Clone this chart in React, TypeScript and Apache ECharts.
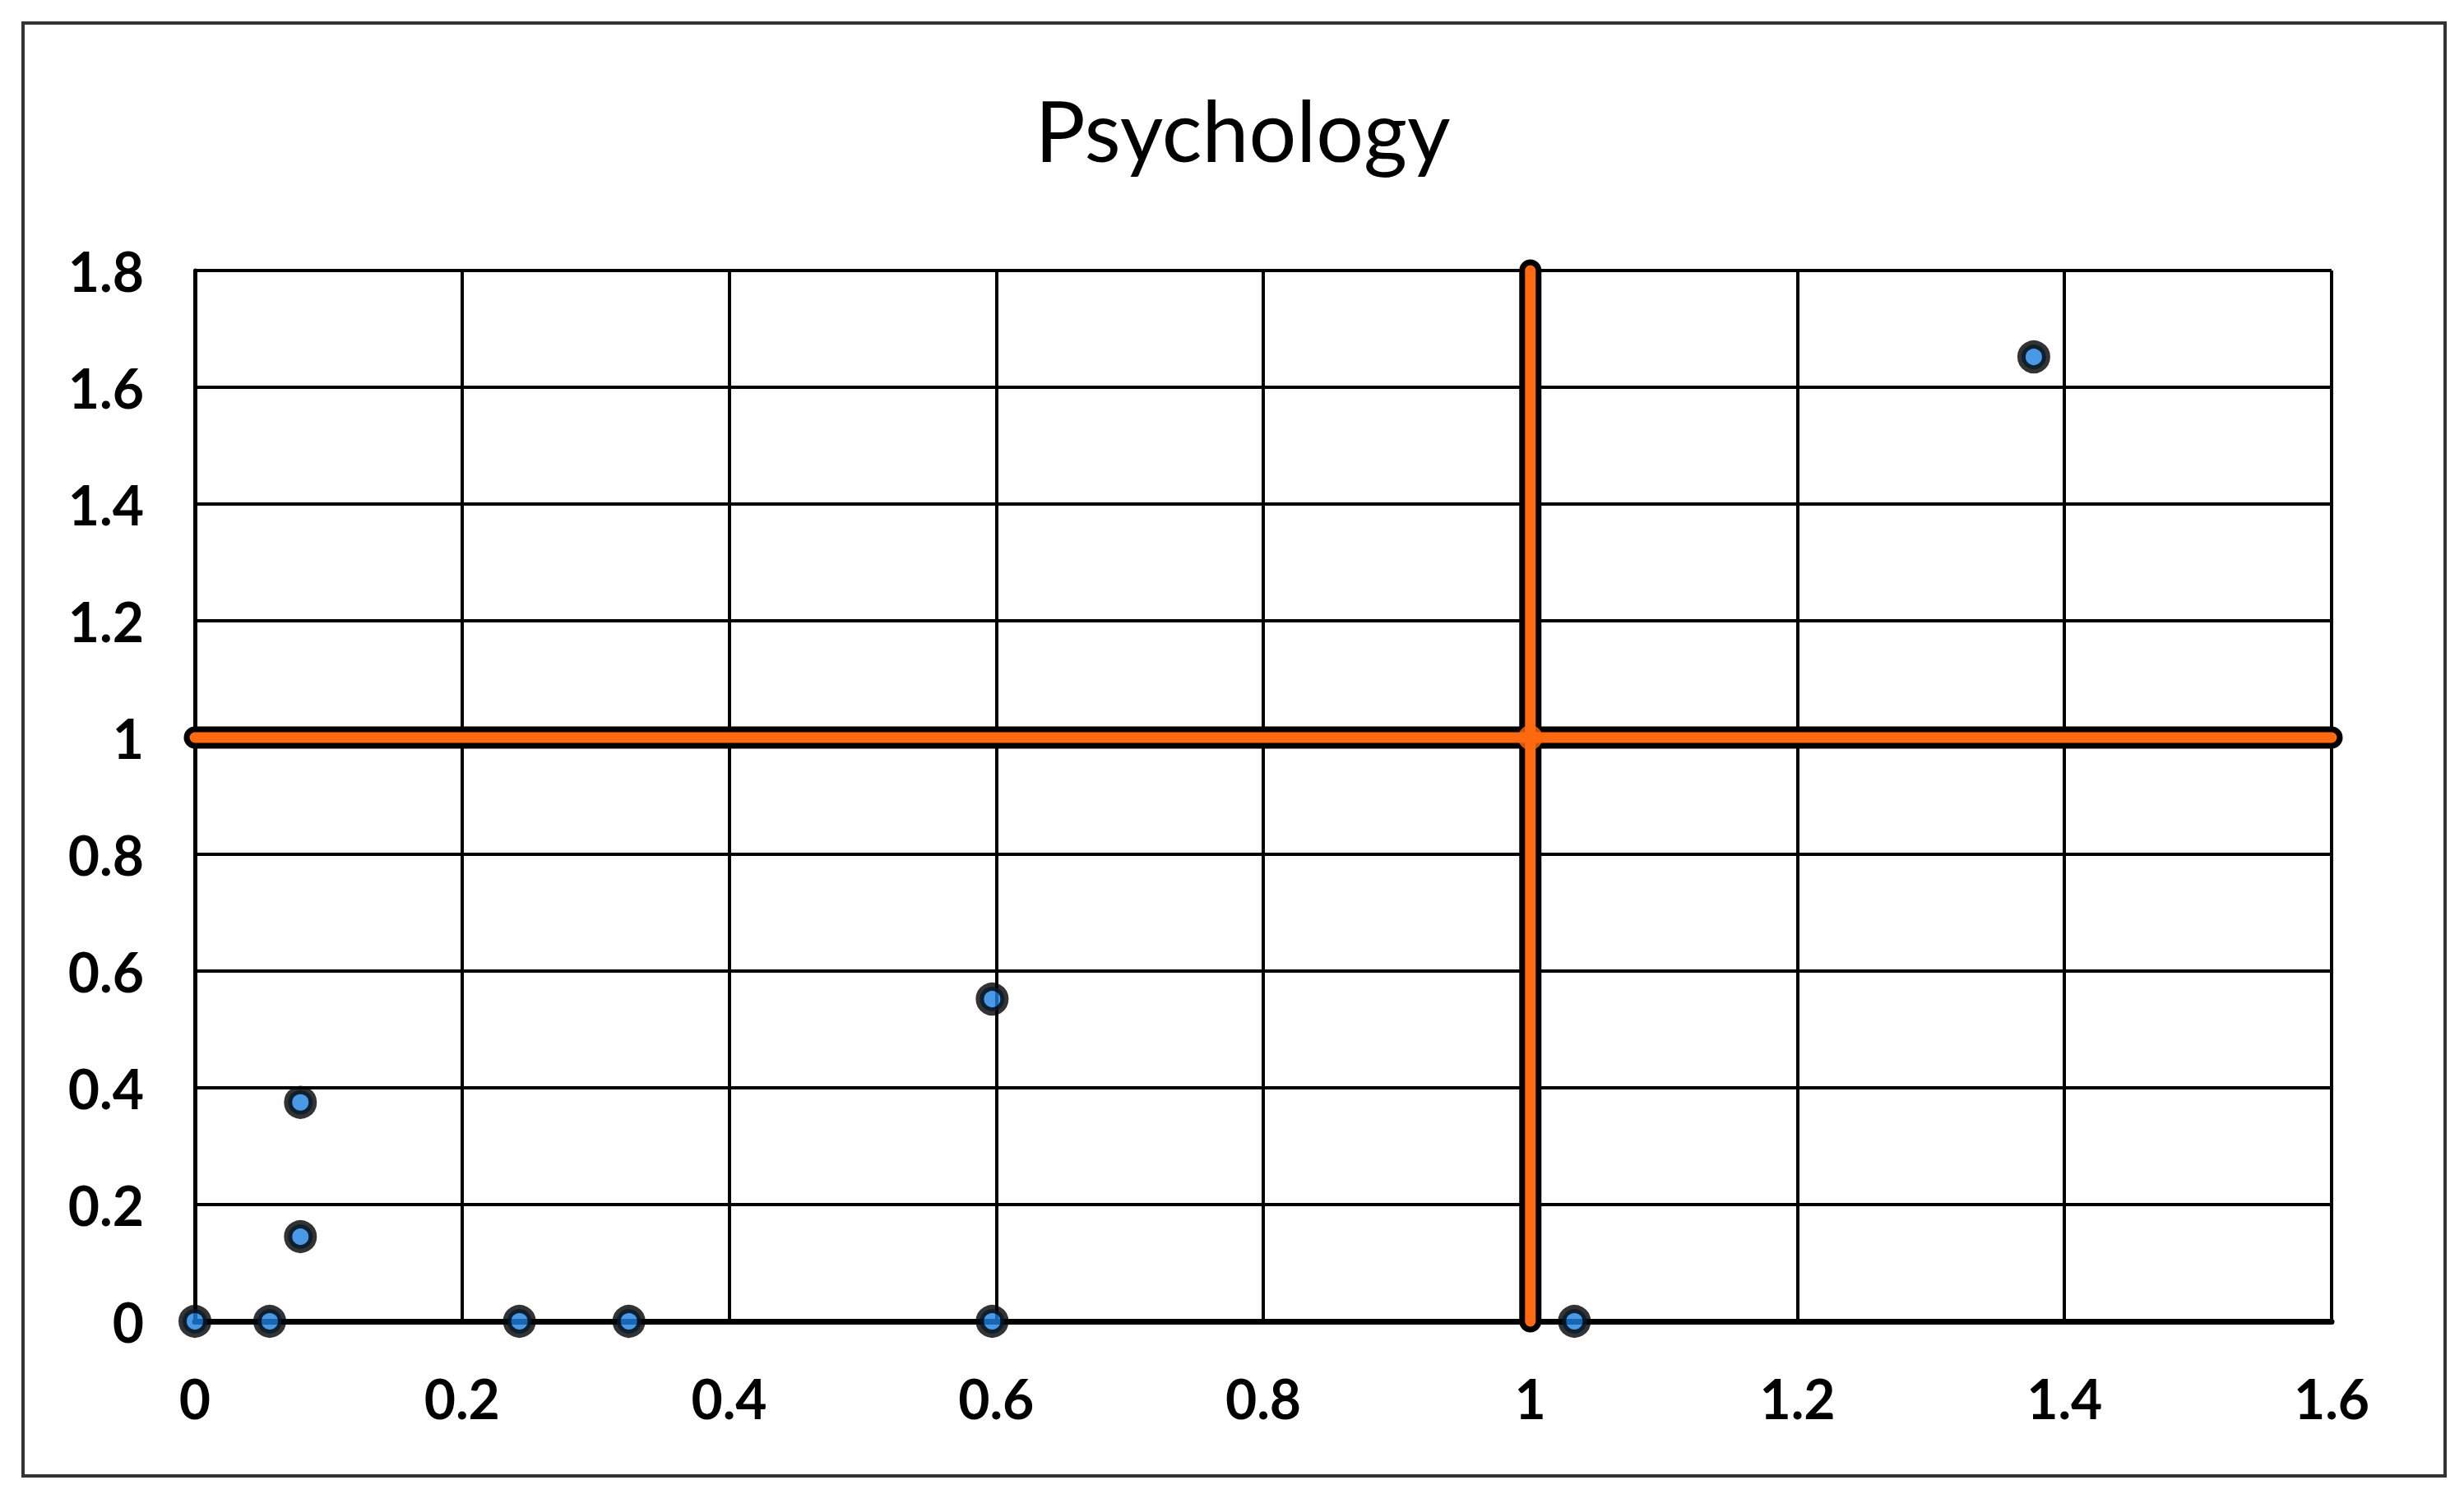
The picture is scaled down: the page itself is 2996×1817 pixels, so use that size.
import React, { useEffect, useRef } from "react";
import * as echarts from "echarts";

// ---- data ----
const TITLE = "Psychology";
const pointsX = [0, 0.056, 0.079, 0.079, 0.243, 0.325, 0.597, 0.597, 1.033, 1.377];
const pointsY = [0, 0, 0.145, 0.375, 0, 0, 0.552, 0, 0, 1.652];
const xTickLabels = ["0", "0.2", "0.4", "0.6", "0.8", "1", "1.2", "1.4", "1.6"];
const yTickLabels = ["0", "0.2", "0.4", "0.6", "0.8", "1", "1.2", "1.4", "1.6", "1.8"];
const X_MIN = 0;
const X_MAX = 1.6;
const Y_MIN = 0;
const Y_MAX = 1.8;
const STEP = 0.2;
const X_THRESHOLD = 1;
const Y_THRESHOLD = 1;

const W = 2996;
const H = 1817;

export default function App() {
  const ref = useRef<HTMLDivElement>(null);

  useEffect(() => {
    if (!ref.current) return;
    const chart = echarts.init(ref.current, null, { renderer: "svg" });

    const scatterData = pointsX.map((x, i) => [x, pointsY[i]]);
    const hLine = [
      [X_MIN, Y_THRESHOLD],
      [X_MAX, Y_THRESHOLD],
    ];
    const vLine = [
      [X_THRESHOLD, Y_MIN],
      [X_THRESHOLD, Y_MAX],
    ];

    const labelFont = {
      fontFamily: "Lato, 'Liberation Sans', sans-serif",
      fontWeight: "bold" as const,
      fontSize: 66,
      color: "#000",
    };

    const lineSeries = (data: number[][], color: string, width: number, z: number) => ({
      type: "line",
      data,
      showSymbol: false,
      symbol: "none",
      clip: false,
      silent: true,
      z,
      lineStyle: { color, width, cap: "round" },
    });

    chart.setOption({
      animation: false,
      backgroundColor: "#fefefe",
      title: {
        text: TITLE,
        left: 1506,
        top: 101,
        textAlign: "center",
        textStyle: {
          fontFamily: "Lato, 'Liberation Sans', sans-serif",
          fontWeight: "normal",
          fontSize: 102,
          color: "#000",
        },
      },
      grid: { left: 237, right: 161, top: 329, bottom: 210, containLabel: false },
      xAxis: {
        type: "value",
        min: X_MIN,
        max: X_MAX,
        interval: STEP,
        axisTick: { show: false },
        axisLine: { show: true, lineStyle: { color: "#000", width: 7 } },
        splitLine: { show: true, lineStyle: { color: "#000", width: 4 } },
        axisLabel: {
          ...labelFont,
          margin: 60,
          formatter: (v: number) => xTickLabels[Math.round((v - X_MIN) / STEP)] ?? "",
        },
      },
      yAxis: {
        type: "value",
        min: Y_MIN,
        max: Y_MAX,
        interval: STEP,
        axisTick: { show: false },
        axisLine: { show: true, lineStyle: { color: "#000", width: 5 } },
        splitLine: { show: true, lineStyle: { color: "#000", width: 4 } },
        axisLabel: {
          ...labelFont,
          margin: 62,
          formatter: (v: number) => yTickLabels[Math.round((v - Y_MIN) / STEP)] ?? "",
        },
      },
      series: [
        lineSeries(hLine, "#000", 27, 2),
        lineSeries(vLine, "#000", 27, 2),
        lineSeries(hLine, "#FF6A10", 13, 3),
        lineSeries(vLine, "#FF6A10", 13, 3),
        {
          type: "scatter",
          data: [[X_THRESHOLD, Y_THRESHOLD]],
          symbol: "circle",
          symbolSize: 30,
          silent: true,
          z: 4,
          itemStyle: { color: "#FF6A10" },
        },
        {
          type: "scatter",
          data: scatterData,
          symbol: "circle",
          symbolSize: 30,
          clip: false,
          z: 5,
          itemStyle: { color: "#1B7FE0", borderColor: "#000", borderWidth: 10 },
        },
      ],
      graphic: [
        {
          type: "rect",
          shape: { x: 28, y: 28, width: 2945, height: 1767 },
          style: { fill: "none", stroke: "#333", lineWidth: 4 },
          silent: true,
          z: 0,
        },
      ],
    });

    return () => chart.dispose();
  }, []);

  return (
    <div
      ref={ref}
      style={{ position: "fixed", left: 0, top: 0, width: W, height: H }}
    />
  );
}
